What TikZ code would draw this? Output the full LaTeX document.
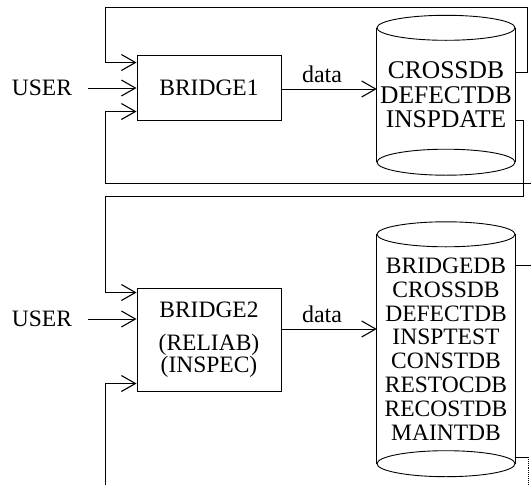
\documentclass[tikz,border=0pt]{standalone}
\usepackage{fontspec}
\newfontfamily\tnr{Liberation Serif}
\usetikzlibrary{arrows.meta}
\begin{document}
\begin{tikzpicture}[x=1pt,y=-1pt,
  wire/.style={line width=0.9pt},
  feed/.style={wire,-{Straight Barb[length=14pt,width=16pt,line width=1.1pt]}},
  block/.style={draw,line width=1pt,inner sep=0pt,minimum width=144pt,
    font=\tnr\fontsize{23.5pt}{22pt}\selectfont,align=center},
  dbody/.style={inner sep=0pt,minimum width=138pt,align=center},
  lbl/.style={inner sep=0pt,font=\tnr\fontsize{23.5pt}{24pt}\selectfont},
]
\useasboundingbox (0,0) rectangle (531,485);

% program blocks
\node[block,minimum height=65pt] (b1) at (209,87.5) {BRIDGE1};
\node[block,minimum height=103pt] (b2) at (209,339.5) {BRIDGE2\\[11pt](RELIAB)\\(INSPEC)};

% users
\node[lbl] (u1) at (42,88) {USER};
\node[lbl] (u2) at (42,319) {USER};

% databases
\node[dbody,minimum height=134pt,font=\tnr\fontsize{25.5pt}{24.5pt}\selectfont]
  (cyl1) at (446,95) {CROSSDB\\DEFECTDB\\INSPDATE};
\node[dbody,minimum height=229pt,font=\tnr\fontsize{23.5pt}{23.8pt}\selectfont]
  (cyl2) at (446,349) {BRIDGEDB\\CROSSDB\\DEFECTDB\\INSPTEST\\CONSTDB\\RESTOCDB\\RECOSTDB\\MAINTDB};
\foreach \c in {cyl1,cyl2} {
  \draw[wire] (\c.north west) -- (\c.south west) (\c.north east) -- (\c.south east);
  \draw[wire] (\c.north) ellipse [x radius=69pt, y radius=12.5pt];
  \draw[wire] (\c.south) ellipse [x radius=69pt, y radius=13pt];
}

% data labels
\node[lbl,font=\tnr\fontsize{24pt}{24pt}\selectfont] (dl1) at (322,74) {data};
\node[lbl,font=\tnr\fontsize{24pt}{24pt}\selectfont] (dl2) at (322,314) {data};

% loose ends at the border
\coordinate (e1) at (531,183);
\coordinate (e2) at (531,265);
\coordinate (e3) at (105,485);
\coordinate (k4) at (528,457);
\coordinate (e4) at (528,485);
\coordinate (p1) at ([yshift=-1.5pt]b1.east);
\coordinate (p2) at ([yshift=10.5pt]b2.east);

% user input
\draw[feed,shorten <=16pt] (u1.east) -- (u1.east -| b1.west);
\draw[feed,shorten <=16pt] (u2.east) -- (u2.east -| b2.west);

% data flow into the databases
\draw[feed] (p1) -- (p1 -| cyl1.west);
\draw[feed] (p2) -- (p2 -| cyl2.west);

% feedback loops
\draw[feed] ([yshift=23pt]cyl1.east) -| (527,7.5) -- (105,7.5) |- ([yshift=-8pt]b1.north west);
\draw[feed] (e1) -- (105,183) |- ([yshift=9pt]b1.south west);
\draw[feed] ([yshift=-25pt]cyl1.east) -| (523,196) -- (105,196) |- ([yshift=-5pt]b2.north west);
\draw[wire] ([yshift=84pt]cyl2.east) -- (e2);
\draw[feed] (e3) |- ([yshift=8pt]b2.south west);
\draw[wire] ([yshift=-108pt]cyl2.east) -- (k4);
\draw[wire,densely dotted] (k4) -- (e4);
\end{tikzpicture}
\end{document}
